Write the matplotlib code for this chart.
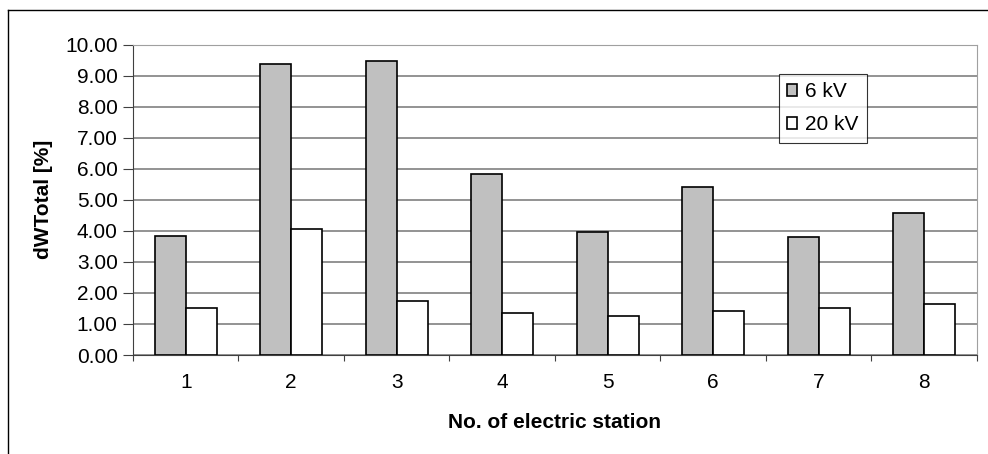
import matplotlib.pyplot as plt
import numpy as np

plt.rcParams['font.family'] = ['Liberation Sans', 'DejaVu Sans']

# datos
estaciones = ['1', '2', '3', '4', '5', '6', '7', '8']
kv6 = [3.83, 9.38, 9.47, 5.83, 3.95, 5.42, 3.79, 4.59]
kv20 = [1.52, 4.05, 1.73, 1.36, 1.27, 1.43, 1.53, 1.63]
yticks = [0, 1, 2, 3, 4, 5, 6, 7, 8, 9, 10]

fs = 15  # tamano de letra

fig = plt.figure(figsize=(9.88, 4.54), dpi=100)
ax = fig.add_axes([0.1346, 0.218, 0.854, 0.6835])

x = np.arange(len(estaciones))
w = 0.294
ax.bar(x - w / 2, kv6, w, color='#c0c0c0', edgecolor='black', linewidth=1.2, label='6 kV', zorder=3)
ax.bar(x + w / 2, kv20, w, color='white', edgecolor='black', linewidth=1.2, label='20 kV', zorder=3)

ax.set_xlim(-0.5, len(estaciones) - 0.5)
ax.set_ylim(0, 10)
ax.set_yticks(yticks)
ax.set_yticklabels(['%.2f' % v for v in yticks], fontsize=fs)
ax.yaxis.grid(True, color='#808080', linewidth=1.2, zorder=0)

# ticks entre categorias, etiquetas en el centro
ax.set_xticks(np.arange(-0.5, len(estaciones), 1))
ax.set_xticklabels([])
ax.set_xticks(x, minor=True)
ax.set_xticklabels(estaciones, minor=True, fontsize=fs)
ax.tick_params(axis='x', which='minor', length=0, pad=13)
ax.tick_params(axis='x', which='major', direction='out', length=4.5, color='#404040')
ax.tick_params(axis='y', direction='out', length=7, pad=4, color='#404040')

for s in ['left', 'bottom']:
    ax.spines[s].set_color('#404040')
for s in ['top', 'right']:
    ax.spines[s].set_color('#a0a0a0')

ax.set_xlabel('No. of electric station', fontsize=fs, fontweight='bold', va='center')
ax.set_ylabel('dWTotal [%]', fontsize=fs, fontweight='bold', va='center')
ax.xaxis.set_label_coords(0.5, -0.219)
ax.yaxis.set_label_coords(-0.1055, 0.5)

leg = ax.legend(loc='upper left', bbox_to_anchor=(0.7657, 0.9056), fontsize=fs,
                frameon=True, fancybox=False, edgecolor='black', handlelength=0.48,
                handleheight=0.48, handletextpad=0.38, labelspacing=0.67,
                borderpad=0.4, borderaxespad=0)
leg.get_frame().set_linewidth(0.8)

# borde exterior (solo izquierda y arriba visibles)
fig.add_artist(plt.Line2D([8 / 988, 8 / 988], [0, 1 - 10 / 454], color='black', linewidth=1))
fig.add_artist(plt.Line2D([8 / 988, 1], [1 - 10 / 454, 1 - 10 / 454], color='black', linewidth=1))

fig.savefig('out.png', dpi=100)
